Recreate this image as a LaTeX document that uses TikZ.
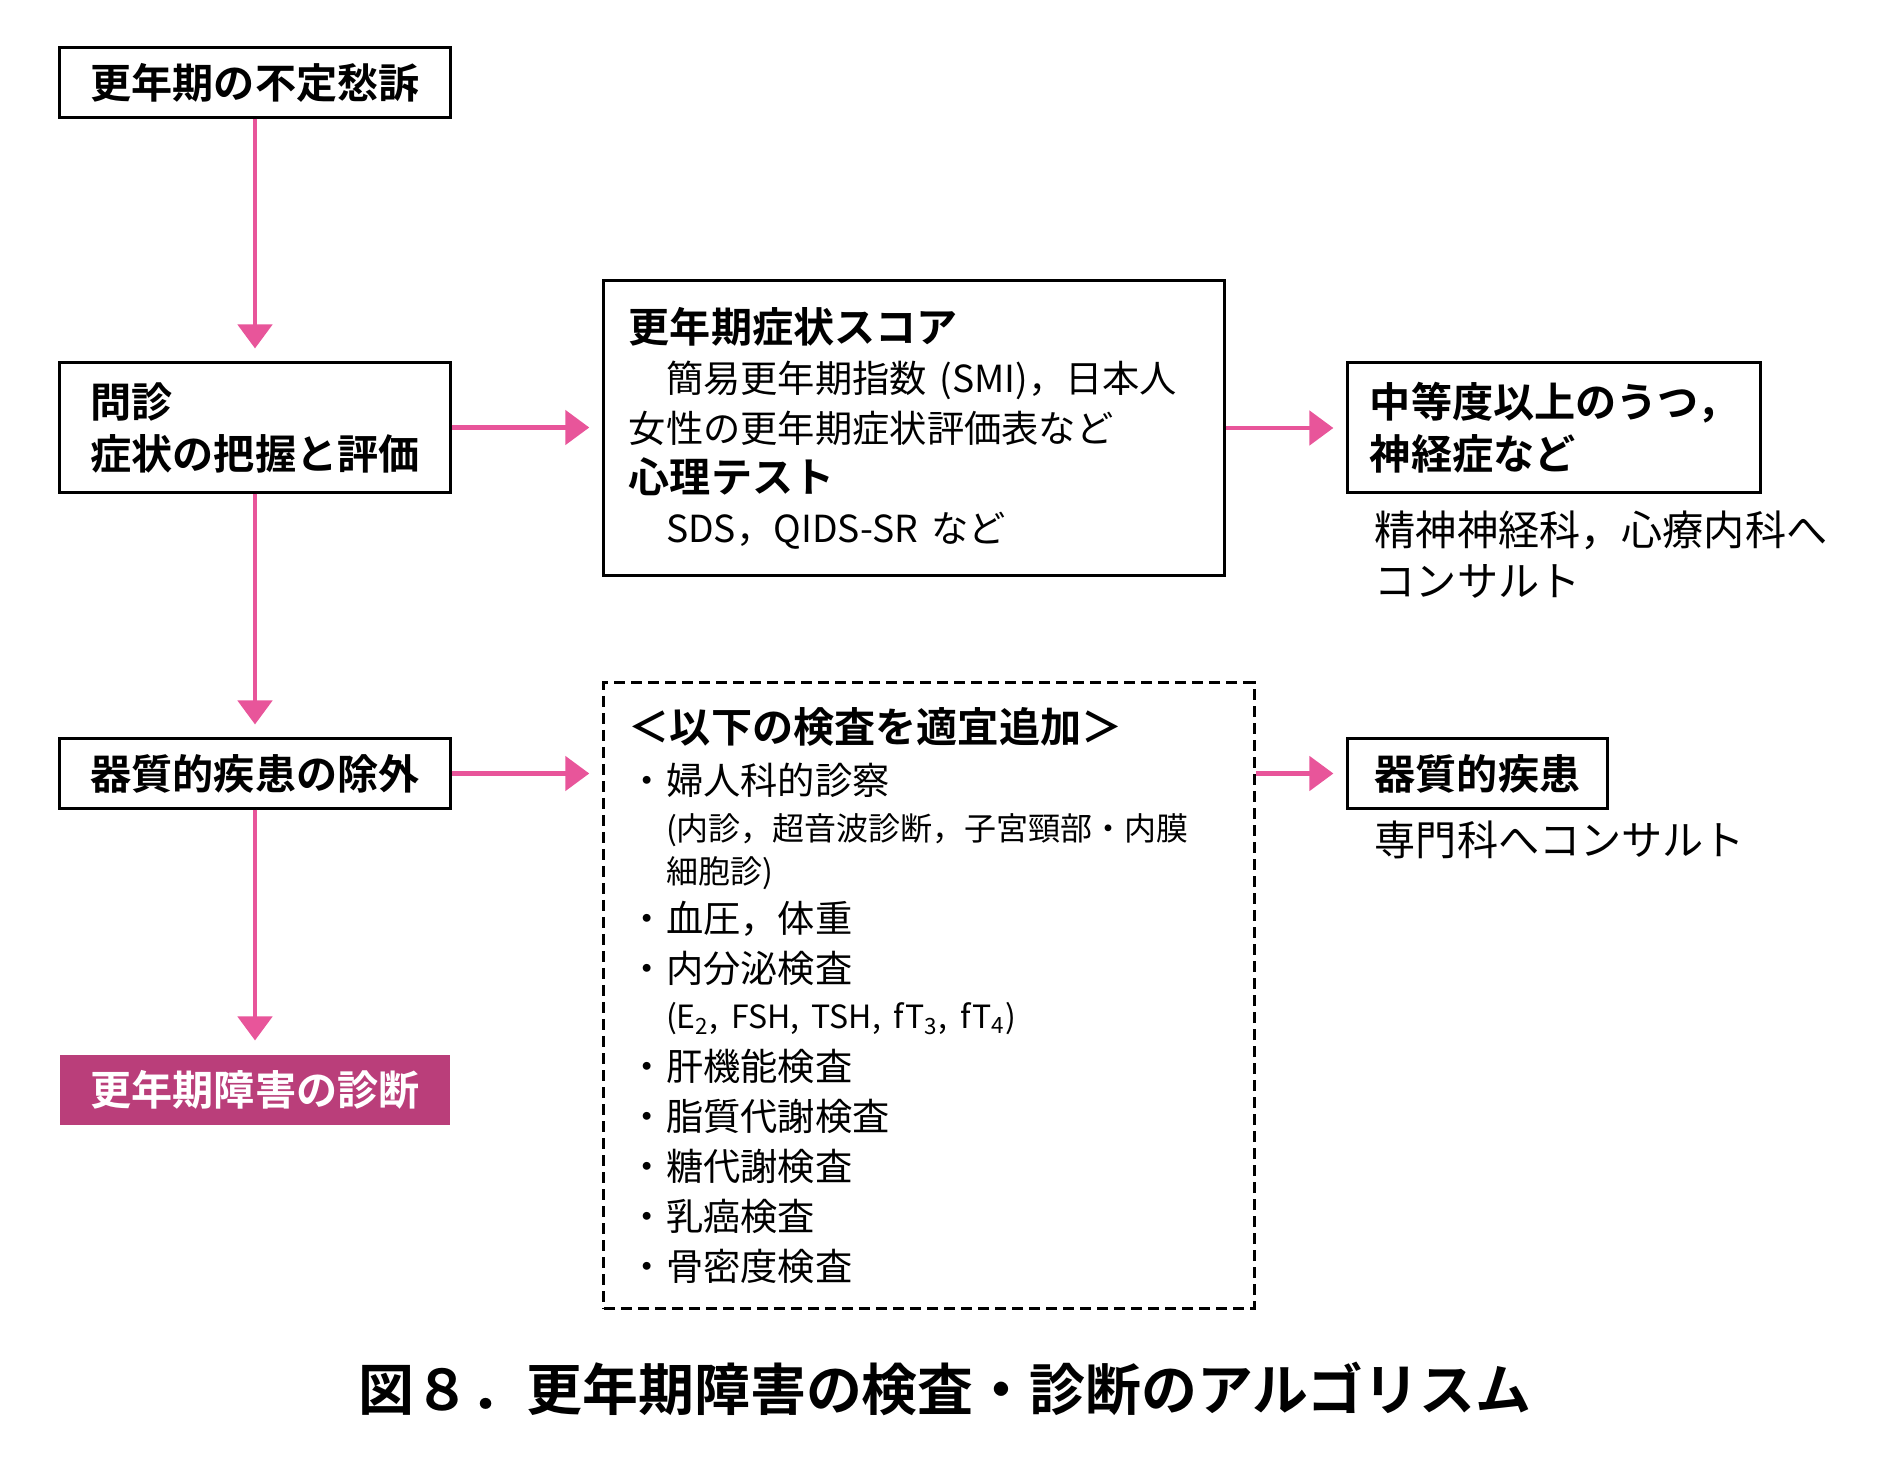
\documentclass[tikz,border=0pt]{standalone}
\usepackage{fontspec}
\setmainfont{Noto Sans CJK JP}[BoldFont={Noto Sans CJK JP Bold}]
\usepackage{tikz}
\usetikzlibrary{arrows.meta,positioning}
\definecolor{linkpink}{RGB}{232,85,154}
\definecolor{diagred}{RGB}{186,62,122}
\def\hd#1{{\fontsize{11.7}{14.2}\selectfont\bfseries #1}}
\def\sm#1{{\fontsize{9.1}{14.2}\selectfont #1}}

\begin{document}
\begin{tikzpicture}[x=0.01cm,y=-0.01cm,
  box/.style={draw,line width=0.85pt,minimum width=3.9cm,minimum height=0.69cm,inner sep=0pt,align=left,font=\fontsize{11.7}{14.8}\selectfont\bfseries},
  infobox/.style={draw,line width=0.85pt,inner xsep=0.25cm,inner ysep=0pt,align=left,font=\fontsize{10.6}{14.2}\selectfont},
  note/.style={anchor=north west,inner sep=0pt,align=left,font=\fontsize{11.7}{14.5}\selectfont},
  link/.style={linkpink,line width=1.4pt,-{Triangle[length=0.24cm,width=0.34cm]},shorten >=0.13cm}]

\useasboundingbox (0,0) rectangle (1890,1476);

\node[box] (onset) at (255,82.5) {更年期の不定愁訴};
\node[box,minimum height=1.29cm] (interview) at (255,427.5) {問診\\症状の把握と評価};
\node[box] (exclude) at (255,773.5) {器質的疾患の除外};
\node[box,draw=none,fill=diagred,text=white,minimum height=0.7cm] (diagnosis) at (255,1090) {更年期障害の診断};

\node[infobox,text width=5.7cm,minimum height=2.94cm] (score) at (914,428)
  {\hd{更年期症状スコア}\\\hspace*{1em}簡易更年期指数 (SMI)，日本人\\女性の更年期症状評価表など\\\hd{心理テスト}\\\hspace*{1em}SDS，QIDS-SR など};

\node[infobox,dash pattern=on 0.11cm off 0.06cm,text width=6cm,minimum height=6.25cm] (tests) at (929,995.5)
  {\hd{＜以下の検査を適宜追加＞}\\[0.6pt]
   ・婦人科的診察\\[-1pt]
   \hspace*{1em}\sm{(内診，超音波診断，子宮頸部・内膜}\\[-2pt]
   \hspace*{1em}\sm{細胞診)}\\[-0.4pt]
   ・血圧，体重\\
   ・内分泌検査\\[-1pt]
   \hspace*{1em}\sm{(E\textsubscript{2}, FSH, TSH, fT\textsubscript{3}, fT\textsubscript{4})}\\[0.6pt]
   ・肝機能検査\\
   ・脂質代謝検査\\
   ・糖代謝検査\\
   ・乳癌検査\\
   ・骨密度検査};

\node[box,minimum width=4.12cm,minimum height=1.29cm] (mood) at (1554,427.5) {中等度以上のうつ，\\神経症など};
\node[note] (psych) at (1374,510) {精神神経科，心療内科へ\\コンサルト};

\node[box,minimum width=2.59cm] (organic) at (1477.5,773.5) {器質的疾患};
\node[note] (special) at (1374,820) {専門科へコンサルト};

\foreach \a/\b in {onset/interview, interview/exclude, exclude/diagnosis}
  \draw[link] (\a) -- (\b);

\draw[link] (interview.east) -- (interview.east -| score.west);
\draw[link] (score.east) -- (score.east -| mood.west);
\draw[link] (exclude.east) -- (exclude.east -| tests.west);
\draw[link] (tests.east |- organic.west) -- (organic.west);

\node[font=\fontsize{15.9}{18}\selectfont\bfseries] (caption) at (945,1389) {図８．更年期障害の検査・診断のアルゴリスム};
\end{tikzpicture}
\end{document}
